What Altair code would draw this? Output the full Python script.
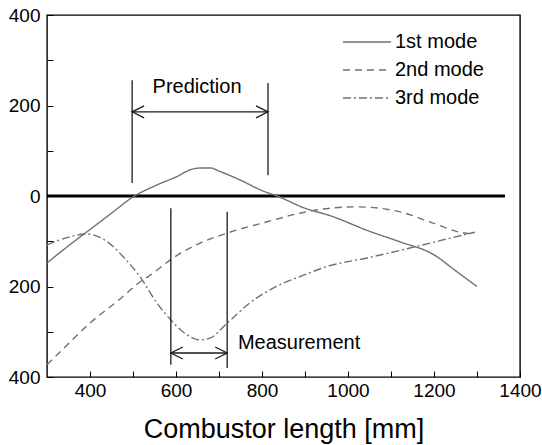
import altair as alt
import pandas as pd

# ---- data ----
mode1_x = [300, 350, 400, 450, 500, 550, 600, 640, 660, 680, 700, 750, 800, 835, 900, 960, 1050, 1120, 1200, 1250, 1300]
mode1_y = [-148, -110, -74, -38, -2, 22, 42, 60, 62, 62, 55, 35, 12, 0, -27, -44, -78, -101, -130, -165, -200]

mode2_x = [300, 330, 400, 477, 516, 540, 593, 656, 719, 812, 888, 958, 1020, 1121, 1198, 1260, 1295]
mode2_y = [-373, -345, -281, -222, -190, -175, -137, -104, -82, -57, -38, -27, -24, -35, -60, -80, -84]

mode3_x = [300, 330, 393, 440, 477, 516, 556, 586, 616, 656, 679, 719, 772, 849, 888, 958, 1044, 1144, 1221, 1295]
mode3_y = [-108, -97, -84, -101, -134, -178, -237, -272, -300, -318, -314, -281, -236, -193, -178, -154, -137, -115, -97, -80]

mode_names = ["1st mode", "2nd mode", "3rd mode"]

zero_span = [300, 1365]

pred_x = [498, 814]
pred_top = [256, 250]
pred_bot = [29, 46]
pred_arrow_y = 186
pred_label = "Prediction"
pred_label_pos = [649, 241]

meas_x = [588, 719]
meas_top = [-27, -35]
meas_bot = [-373, -380]
meas_arrow_y = -347
meas_label = "Measurement"
meas_label_pos = [744, -325]

x_ticks = list(range(400, 1401, 100))
y_ticks = list(range(-400, 401, 100))

FONT = "Liberation Sans"
GRAY = "#707070"

rows = []
for name, xs, ys in zip(mode_names, [mode1_x, mode2_x, mode3_x], [mode1_y, mode2_y, mode3_y]):
    for a, b in zip(xs, ys):
        rows.append({"x": a, "y": b, "mode": name})
curves = pd.DataFrame(rows)

xscale = alt.Scale(domain=[300, 1400], nice=False, zero=False)
yscale = alt.Scale(domain=[-400, 400], nice=False, zero=False)

x_axis = alt.Axis(
    values=x_ticks, format="d",
    labelExpr="datum.value % 200 == 0 ? datum.label : ''",
    tickSize=6, offset=-6, domain=False, grid=False, labelPadding=4,
    labelFontSize=19, labelFont=FONT, labelColor="black", tickColor="black",
    labelFlush=False, title="Combustor length [mm]", titleFontSize=27,
    titleFont=FONT, titleFontWeight="normal", titleColor="black", titlePadding=16,
)
y_axis = alt.Axis(
    values=y_ticks,
    labelExpr="datum.value % 200 == 0 ? '' + abs(datum.value) : ''",
    tickSize=6, offset=-6, domain=False, grid=False, labelPadding=7,
    labelFontSize=19, labelFont=FONT, labelColor="black", tickColor="black",
    labelFlush=False, title=None,
)

X = lambda f="x": alt.X(f"{f}:Q", scale=xscale, axis=x_axis)
Y = lambda f="y": alt.Y(f"{f}:Q", scale=yscale, axis=y_axis)

lines = alt.Chart(curves).mark_line(color=GRAY, strokeWidth=1.4, interpolate="monotone").encode(
    x=X(), y=Y(),
    strokeDash=alt.StrokeDash(
        "mode:N",
        scale=alt.Scale(domain=mode_names, range=[[1, 0], [7, 5], [8, 3, 2, 3]]),
        legend=alt.Legend(
            title=None, orient="none", legendX=310, legendY=17,
            symbolType="M-4,0H4", symbolSize=144, symbolStrokeColor=GRAY,
            symbolFillColor="transparent",
            symbolStrokeWidth=1.4, labelFontSize=20, labelFont=FONT,
            labelColor="black", rowPadding=8, labelOffset=18,
        ),
    ),
    order="x:Q",
)

zero_df = pd.DataFrame({"x": [zero_span[0]], "x2": [zero_span[1]], "y": [0]})
zero = alt.Chart(zero_df).mark_rule(color="black", strokeWidth=2.8).encode(
    x=X(), x2="x2:Q", y=Y()
)

vlines_df = pd.DataFrame({
    "x": pred_x + meas_x,
    "y": pred_top + meas_top,
    "y2": pred_bot + meas_bot,
})
vlines = alt.Chart(vlines_df).mark_rule(color="#1a1a1a", strokeWidth=1.3).encode(
    x=X(), y=Y(), y2="y2:Q"
)

arrows_df = pd.DataFrame({
    "x": [pred_x[0], meas_x[0]],
    "x2": [pred_x[1], meas_x[1]],
    "y": [pred_arrow_y, meas_arrow_y],
})
arrows = alt.Chart(arrows_df).mark_rule(color="#1a1a1a", strokeWidth=1.3).encode(
    x=X(), x2="x2:Q", y=Y()
)

heads_left = pd.DataFrame({"x": [pred_x[0], meas_x[0]], "y": [pred_arrow_y, meas_arrow_y]})
heads_right = pd.DataFrame({"x": [pred_x[1], meas_x[1]], "y": [pred_arrow_y, meas_arrow_y]})
hl = alt.Chart(heads_left).mark_point(
    shape="M2,-1L0,0L2,1", filled=False, size=144, stroke="#1a1a1a", strokeWidth=1.3, opacity=1
).encode(x=X(), y=Y())
hr = alt.Chart(heads_right).mark_point(
    shape="M-2,-1L0,0L-2,1", filled=False, size=144, stroke="#1a1a1a", strokeWidth=1.3, opacity=1
).encode(x=X(), y=Y())

txt_pred = alt.Chart(pd.DataFrame({"x": [pred_label_pos[0]], "y": [pred_label_pos[1]], "t": [pred_label]})).mark_text(
    font=FONT, fontSize=20, color="black", align="center", baseline="middle"
).encode(x=X(), y=Y(), text="t:N")
txt_meas = alt.Chart(pd.DataFrame({"x": [meas_label_pos[0]], "y": [meas_label_pos[1]], "t": [meas_label]})).mark_text(
    font=FONT, fontSize=20, color="black", align="left", baseline="middle"
).encode(x=X(), y=Y(), text="t:N")

chart = alt.layer(zero, lines, vlines, arrows, hl, hr, txt_pred, txt_meas).properties(
    width=473, height=362,
    autosize=alt.AutoSizeParams(type="none"),
    padding={"left": 47, "top": 15, "right": 22, "bottom": 68},
    background="white",
).configure_view(stroke="black", strokeWidth=1.4)

chart.save("out.html", embed_options={"renderer": "svg", "actions": False})
